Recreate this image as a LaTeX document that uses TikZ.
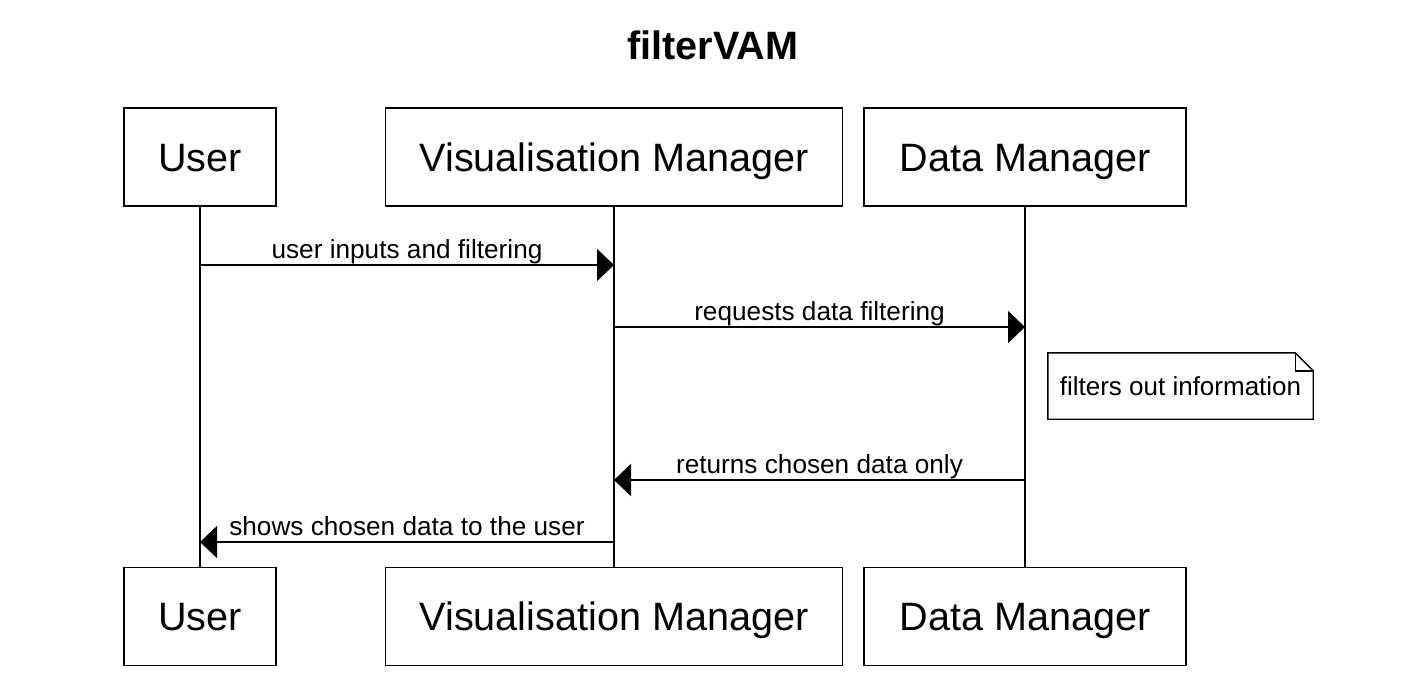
\documentclass[tikz,border=0pt]{standalone}
\usepackage{fontspec}
\setmainfont{Liberation Sans}
\usepackage{tikz}
\usetikzlibrary{arrows.meta}
\tikzset{
  actor/.style={draw, line width=1.6pt, inner sep=0pt, minimum height=98pt,
                text height=28.4pt, text depth=0pt,
                font=\fontsize{39.6}{44}\selectfont},
  life/.style={line width=1.6pt},
  msg/.style={-{Triangle[length=17pt, width=32pt]}, line width=1.6pt},
  lbl/.style={font=\fontsize{26.2}{29}\selectfont, inner sep=1.5pt,
              text height=19pt, text depth=4pt},
  notebox/.style={minimum width=265pt, minimum height=66pt, inner sep=0pt,
                  font=\fontsize{26}{29}\selectfont}
}
\begin{document}
\begin{tikzpicture}[x=1pt, y=-1pt]
  \useasboundingbox (0,0) rectangle (1410,686);
  \node[font=\bfseries\fontsize{39.6}{44}\selectfont] (title) at (713,45) {filterVAM};
  % lifeline heads
  \node[actor, minimum width=152pt] (usr) at (200,157) {User};
  \node[actor, minimum width=457pt] (vm) at (614,157) {Visualisation Manager};
  \node[actor, minimum width=322pt] (dm) at (1025,157) {Data Manager};
  % lifeline feet
  \node[actor, minimum width=152pt] (usrb) at (200,616.5) {User};
  \node[actor, minimum width=457pt] (vmb) at (614,616.5) {Visualisation Manager};
  \node[actor, minimum width=322pt] (dmb) at (1025,616.5) {Data Manager};
  \draw[life] (usr) -- (usrb);
  \draw[life] (vm) -- (vmb);
  \draw[life] (dm) -- (dmb);
  % messages
  \coordinate (u1) at (200,265); \coordinate (v1) at (614,265);
  \coordinate (v2) at (614,327); \coordinate (d2) at (1025,327);
  \coordinate (d3) at (1025,480); \coordinate (v3) at (614,480);
  \coordinate (v4) at (614,542); \coordinate (u4) at (200,542);
  \draw[msg] (u1) -- node[lbl, above]{user inputs and filtering} (v1);
  \draw[msg] (v2) -- node[lbl, above]{requests data filtering} (d2);
  \draw[msg] (d3) -- node[lbl, above]{returns chosen data only} (v3);
  \draw[msg] (v4) -- node[lbl, above]{shows chosen data to the user} (u4);
  % note
  \node[notebox] (note) at (1180.5,386) {filters out information};
  \draw[line width=1.4pt] (note.south west) -- (note.north west)
    -- ([xshift=-18pt]note.north east) -- ([yshift=-18pt]note.north east)
    -- (note.south east) -- cycle;
  \draw[line width=1.4pt] ([xshift=-18pt]note.north east)
    -- ([xshift=-18pt, yshift=-18pt]note.north east) -- ([yshift=-18pt]note.north east);
\end{tikzpicture}
\end{document}
